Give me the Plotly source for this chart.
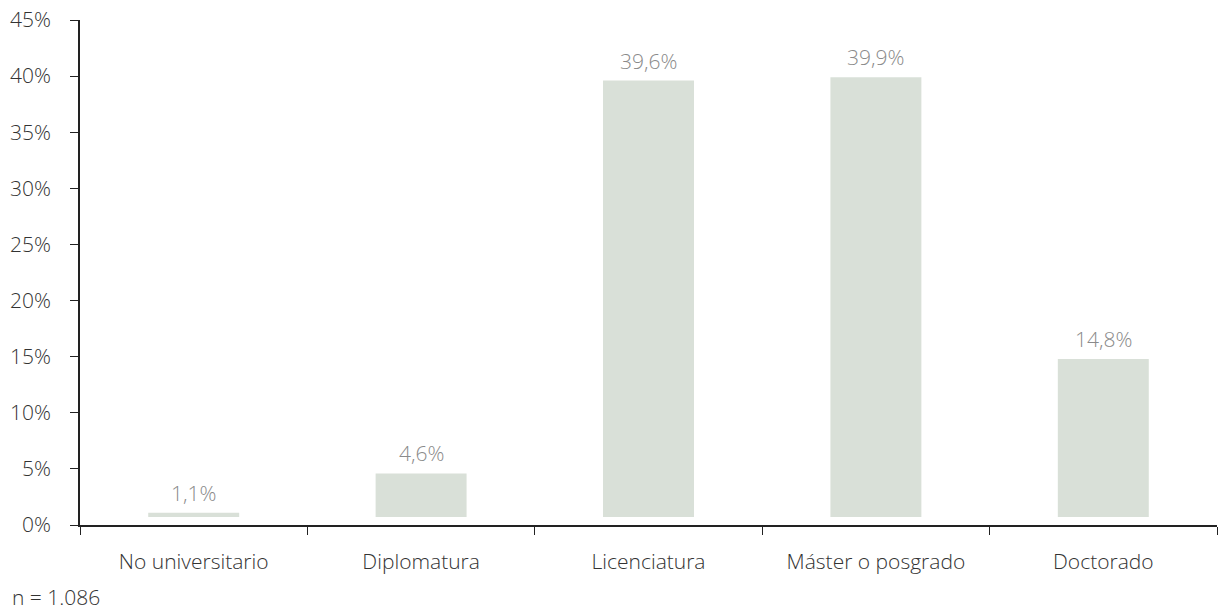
import plotly.graph_objects as go

categories = ["No universitario", "Diplomatura", "Licenciatura", "Máster o posgrado", "Doctorado"]
values = [1.1, 4.6, 39.6, 39.9, 14.8]
y_ticks = [0, 5, 10, 15, 20, 25, 30, 35, 40, 45]
note = "n = 1.086"

BASE = 0.72
FONT = "Open Sans"
FW = 300
FS = 21

fig = go.Figure()
fig.add_trace(go.Bar(
    x=categories,
    y=[v - BASE for v in values],
    base=BASE,
    width=0.4,
    marker=dict(color="#d9e0d8", line=dict(width=0)),
    hoverinfo="skip",
))

for c, v in zip(categories, values):
    fig.add_annotation(
        x=c, y=v, xref="x", yref="y",
        text=f"{v:.1f}".replace(".", ",") + "%",
        showarrow=False, yanchor="bottom", yshift=4,
        font=dict(family=FONT, size=FS, color="#8a8a8a", weight=FW),
    )

fig.add_annotation(
    x=-0.0616, y=-0.1426, xref="paper", yref="paper", xanchor="left", yanchor="middle",
    text=note, showarrow=False,
    font=dict(family=FONT, size=FS, color="#333333", weight=FW),
)

fig.update_layout(
    width=1222, height=612,
    margin=dict(l=80, r=5, t=20, b=87, autoexpand=False),
    plot_bgcolor="white", paper_bgcolor="white",
    showlegend=False,
    font=dict(family=FONT, size=FS, color="#333333", weight=FW),
    xaxis=dict(
        showline=True, linecolor="#222222", linewidth=1.5,
        ticks="outside", tickson="boundaries", ticklen=8, tickcolor="#222222",
        showgrid=False, ticklabelstandoff=17, automargin=False,
        tickfont=dict(family=FONT, size=FS, color="#333333", weight=FW),
        range=[-0.5, 4.5],
    ),
    yaxis=dict(
        range=[0, 45], tickvals=y_ticks, ticktext=[f"{t}%" for t in y_ticks],
        showline=True, linecolor="#222222", linewidth=1.5,
        ticks="outside", ticklen=8, tickcolor="#222222",
        showgrid=False, zeroline=False, ticklabelstandoff=15, automargin=False,
        ticklabeloverflow="allow",
        tickfont=dict(family=FONT, size=FS, color="#333333", weight=FW),
    ),
)

fig.write_html("out.html", config={"displayModeBar": False},
               post_script="document.body.style.margin='0px';")
